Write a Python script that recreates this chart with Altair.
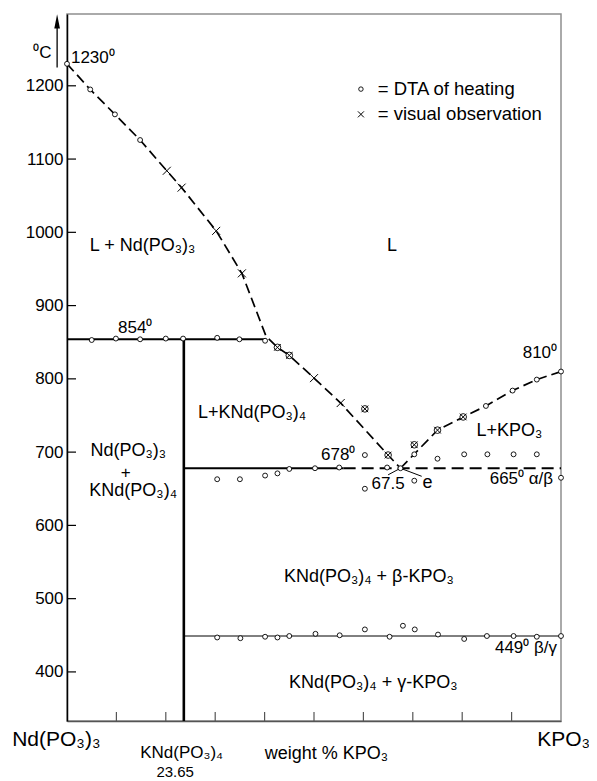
import altair as alt
import pandas as pd

FONT = "Liberation Sans"
W, H = 494, 707
X_DOMAIN = [0, 100]
T_DOMAIN = [333, 1298]

# ---------------- data (wt% KPO3, temperature in degC) ----------------
# DTA of heating (open circles)
dta_x = [0, 4.7, 9.7, 14.8,
         5, 9.9, 14.8, 20, 23.5, 30.4, 34.9, 40.1,
         30.4, 35, 40.1, 42.6, 45, 50.2, 55.1,
         60.3, 70.3, 75, 80.4, 85.1, 90.4, 95.1,
         64.8, 67.5, 60.3, 70.3, 100,
         84.8, 90.2, 95.1, 100,
         30.4, 35.1, 40.1, 42.6, 45, 50.3, 55.2, 60.3, 65.3, 68, 70.4, 75.1, 80.4, 85, 90.4, 95.1, 100]
dta_t = [1230, 1195, 1161, 1126,
         853, 855, 854, 855, 855, 856, 854, 852,
         663, 663, 668, 671, 677, 678, 679,
         696, 697, 691, 697, 697, 697, 697,
         679, 678, 650, 661, 665,
         763, 784, 799, 810,
         447, 446, 448, 447, 449, 452, 450, 458, 448, 463, 458, 451, 445, 449, 449, 448, 449]

# visual observation (crosses)
vis_x = [20.2, 23.2, 30.2, 35.4, 50, 55.4]
vis_t = [1084, 1061, 1002, 944, 801, 767]

# points observed by both methods (circle with cross)
both_x = [42.6, 45, 60.3, 65, 70.3, 75, 80.2]
both_t = [843, 832, 759, 696, 710, 730, 748]

# liquidus curves (dashed)
liqA_x = [0, 4.7, 9.7, 14.8, 20.2, 23.2, 30.2, 35.4, 40.3, 42.6, 45, 50, 55.4, 65, 67.5]
liqA_t = [1230, 1195, 1161, 1126, 1084, 1061, 1002, 944, 858, 843, 832, 801, 767, 696, 678]
liqB_x = [67.5, 75, 80.2, 84.8, 90.2, 95.1, 100]
liqB_t = [678, 730, 748, 763, 784, 799, 810]

# straight phase boundaries: x1, t1, x2, t2
solid_thick = [(0, 854, 40.3, 854), (23.65, 678, 56, 678)]
vertical_thick = [(23.65, 854, 23.65, 333)]
dashed_thick = [(56, 678, 100, 678)]
thin_lines = [(23.65, 449, 100, 449), (67.5, 678, 65, 669), (67.5, 678, 71.8, 667)]

# axis ticks
y_ticks = [400, 500, 600, 700, 800, 900, 1000, 1100, 1200]
x_ticks = [10, 20, 30, 40, 50, 60, 70, 80, 90]

# legend symbols
leg_x = [59.5]
leg_t_dta = [1195.5]
leg_t_vis = [1161]

# y axis unit arrow
arrow_x = [-2.0]
arrow_t = [1225, 1288]

# text labels: (text, x, t, align, fontsize)
labels = [
    ("1230\u2070", 0.8, 1238, "left", 17),
    ("\u2070C", -5.0, 1245, "center", 17),
    ("L + Nd(PO\u2083)\u2083", 15.3, 981, "center", 18),
    ("L", 65.8, 981, "center", 18),
    ("= DTA of heating", 62.9, 1195.5, "left", 18.5),
    ("= visual observation", 62.9, 1161, "left", 18.5),
    ("854\u2070", 13.8, 870, "center", 17),
    ("L+KNd(PO\u2083)\u2084", 26.5, 753, "left", 18),
    ("Nd(PO\u2083)\u2083", 12.4, 701, "center", 18),
    ("+", 11.9, 672, "center", 17),
    ("KNd(PO\u2083)\u2084", 13.4, 647, "center", 18),
    ("678\u2070", 54.9, 696, "center", 17),
    ("67.5", 65.0, 656, "center", 17),
    ("e", 73.0, 658, "center", 18),
    ("665\u2070 \u03b1/\u03b2", 98.4, 663, "right", 17),
    ("810\u2070", 99.2, 835, "right", 17),
    ("L+KPO\u2083", 82.9, 729, "left", 18),
    ("KNd(PO\u2083)\u2084 + \u03b2-KPO\u2083", 61.1, 529, "center", 18),
    ("449\u2070 \u03b2/\u03b3", 99.2, 432, "right", 17),
    ("KNd(PO\u2083)\u2084 + \u03b3-KPO\u2083", 62.0, 385, "center", 18),
    ("Nd(PO\u2083)\u2083", -11.1, 307, "left", 21),
    ("KPO\u2083", 105.9, 307, "right", 21),
    ("KNd(PO\u2083)\u2084", 23.2, 290, "center", 17),
    ("23.65", 21.9, 264, "center", 15),
    ("weight % KPO\u2083", 52.5, 288, "center", 18),
]

# ---------------- chart ----------------
xs = alt.Scale(domain=X_DOMAIN, nice=False, zero=False)
ys = alt.Scale(domain=T_DOMAIN, nice=False, zero=False)

X_AXIS = alt.Axis(title=None, labels=False, ticks=False, grid=False,
                  domainColor="#555555", domainWidth=1.3)
Y_AXIS = alt.Axis(title=None, values=y_ticks, format="d", ticks=False, grid=False,
                  labelFont=FONT, labelFontSize=17, labelColor="black",
                  labelPadding=4, domainColor="black", domainWidth=1.5)


def X(field):
    return alt.X(field, type="quantitative", scale=xs, axis=X_AXIS)


def Y(field):
    return alt.Y(field, type="quantitative", scale=ys, axis=Y_AXIS)


def seg_df(segs):
    return pd.DataFrame(segs, columns=["x", "t", "x2", "t2"])


def rules(segs, width, dash=None):
    kw = dict(color="black", strokeWidth=width)
    if dash:
        kw["strokeDash"] = dash
    return alt.Chart(seg_df(segs)).mark_rule(**kw).encode(
        x=X("x"), y=Y("t"), x2="x2", y2="t2")


liq_df = pd.DataFrame({
    "x": liqA_x + liqB_x,
    "t": liqA_t + liqB_t,
    "branch": ["A"] * len(liqA_x) + ["B"] * len(liqB_x),
    "ord": list(range(len(liqA_x))) + list(range(len(liqB_x))),
})
liquidus = alt.Chart(liq_df).mark_line(
    color="black", strokeWidth=1.7, strokeDash=[10, 5]
).encode(x=X("x"), y=Y("t"), detail="branch:N", order="ord:Q")

# inward ticks
ytick_df = pd.DataFrame({"t": y_ticks})
yticks = alt.Chart(ytick_df).mark_rule(color="black", strokeWidth=1.2).encode(
    y=Y("t"), x=alt.value(0), x2=alt.value(9))
xtick_df = pd.DataFrame({"x": x_ticks})
xticks = alt.Chart(xtick_df).mark_rule(color="#555555", strokeWidth=1.2).encode(
    x=X("x"), y=alt.value(H), y2=alt.value(H - 9))

CROSS = "M-1,-1L1,1M-1,1L1,-1"
HEAD = "M0,-1L0.4,1L-0.4,1Z"


def circles(xv, tv, size):
    df = pd.DataFrame({"x": xv, "t": tv})
    return alt.Chart(df).mark_point(
        shape="circle", filled=True, fill="white", stroke="black",
        strokeWidth=0.9, size=size, opacity=1
    ).encode(x=X("x"), y=Y("t"))


def crosses(xv, tv, size):
    df = pd.DataFrame({"x": xv, "t": tv})
    return alt.Chart(df).mark_point(
        shape=CROSS, filled=False, stroke="black", strokeWidth=1.0,
        size=size, opacity=1
    ).encode(x=X("x"), y=Y("t"))


dta_pts = circles(dta_x, dta_t, 24)
both_circ = circles(both_x, both_t, 44)
both_cross = crosses(both_x, both_t, 44)
vis_pts = crosses(vis_x, vis_t, 64)

leg_circle = circles(leg_x, leg_t_dta, 20)
leg_cross = crosses(leg_x, leg_t_vis, 36)

arrow_line = alt.Chart(pd.DataFrame({"x": arrow_x, "t": [arrow_t[0]], "t2": [arrow_t[1]]})).mark_rule(
    color="black", strokeWidth=1.3).encode(x=X("x"), y=Y("t"), y2="t2")
arrow_head = alt.Chart(pd.DataFrame({"x": arrow_x, "t": [arrow_t[1]]})).mark_point(
    shape=HEAD, filled=True, color="black", size=200, opacity=1).encode(x=X("x"), y=Y("t"))

lab_df = pd.DataFrame(labels, columns=["label", "x", "t", "align", "fs"])


def text_layer(align):
    return alt.Chart(lab_df).transform_filter(
        alt.datum.align == align
    ).mark_text(align=align, baseline="middle", font=FONT, color="black").encode(
        x=X("x"), y=Y("t"), text="label:N",
        size=alt.Size("fs:Q", scale=None, legend=None))


chart = alt.layer(
    rules(solid_thick, 2.0),
    rules(vertical_thick, 2.6),
    rules(dashed_thick, 2.0, [12, 6]),
    rules(thin_lines, 1.0),
    liquidus,
    yticks, xticks,
    dta_pts, both_circ, both_cross, vis_pts,
    leg_circle, leg_cross,
    arrow_line, arrow_head,
    text_layer("left"), text_layer("center"), text_layer("right"),
).properties(
    width=W, height=H,
    padding={"left": 59, "top": 6, "right": 28, "bottom": 58},
    autosize="none",
).configure_view(stroke="#8f8f8f", strokeWidth=1.5)

chart.save("out.html", embed_options={"renderer": "svg", "actions": False})
